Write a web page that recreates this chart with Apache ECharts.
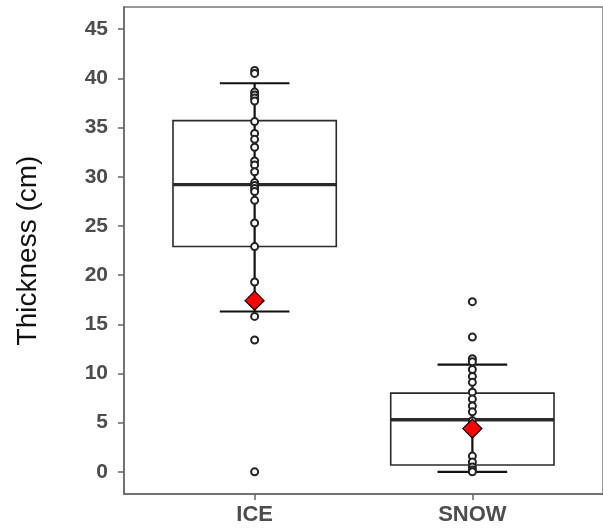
<!DOCTYPE html>
<html>
<head>
<meta charset="utf-8">
<script src="https://cdn.jsdelivr.net/npm/echarts@6/dist/echarts.min.js"></script>
<style>
  html, body { margin: 0; padding: 0; background: #fff; }
  #main { width: 603px; height: 531px; }
</style>
</head>
<body>
<div id="main"></div>
<script>
var categories = ['ICE', 'SNOW'];
// box stats per category: lower whisker, Q1, median, Q3, upper whisker
var lowerWhisker = [16.3, 0];
var q1 = [22.9, 0.7];
var median = [29.2, 5.3];
var q3 = [35.7, 8.0];
var upperWhisker = [39.5, 10.9];
var means = [17.4, 4.4];
// observed values
var icePoints = [40.8, 40.5, 38.6, 38.3, 38.0, 37.7, 35.6, 34.4, 33.8, 33.0, 31.6, 31.2, 30.5,
    29.4, 29.1, 28.8, 28.5, 27.6, 25.3, 22.9, 19.3, 15.8, 13.4, 0];
var snowPoints = [17.3, 13.7, 11.5, 11.2, 10.4, 9.7, 9.1, 8.1, 7.4, 6.7, 6.1, 5.2, 1.6, 1.0, 0.5, 0.2, 0];
var yTicks = [0, 5, 10, 15, 20, 25, 30, 35, 40, 45];

var boxWidth = 0.75;
var capWidth = 0.32;

var boxData = categories.map(function (c, i) {
    return [i + 1, lowerWhisker[i], q1[i], median[i], q3[i], upperWhisker[i]];
});
var pointData = [];
icePoints.forEach(function (v) { pointData.push([1, v]); });
snowPoints.forEach(function (v) { pointData.push([2, v]); });
var meanData = means.map(function (v, i) { return [i + 1, v]; });

function renderBox(params, api) {
    var x = api.value(0);
    var lo = api.coord([x, api.value(1)]);
    var b1 = api.coord([x, api.value(2)]);
    var md = api.coord([x, api.value(3)]);
    var b3 = api.coord([x, api.value(4)]);
    var hi = api.coord([x, api.value(5)]);
    var bw = api.size([boxWidth, 0])[0];
    var cw = api.size([capWidth, 0])[0];
    var cx = lo[0];
    var whisk = { stroke: '#111', lineWidth: 2.2 };
    return {
        type: 'group',
        children: [
            { type: 'line', shape: { x1: cx, y1: lo[1], x2: cx, y2: hi[1] }, style: whisk },
            { type: 'line', shape: { x1: cx - cw / 2, y1: lo[1], x2: cx + cw / 2, y2: lo[1] }, style: whisk },
            { type: 'line', shape: { x1: cx - cw / 2, y1: hi[1], x2: cx + cw / 2, y2: hi[1] }, style: whisk },
            { type: 'rect', shape: { x: cx - bw / 2, y: b3[1], width: bw, height: b1[1] - b3[1] },
              style: { fill: 'none', stroke: '#2a2a2a', lineWidth: 1.6 } },
            { type: 'line', shape: { x1: cx - bw / 2, y1: md[1], x2: cx + bw / 2, y2: md[1] },
              style: { stroke: '#2a2a2a', lineWidth: 3.4 } }
        ]
    };
}

var myChart = echarts.init(document.getElementById('main'));
var option = {
    animation: false,
    grid: {
        left: 124, right: -6, top: 7, bottom: 37,
        show: true, borderColor: '#777', borderWidth: 1.5
    },
    xAxis: {
        type: 'value',
        min: 0.4,
        max: 2.6,
        splitLine: { show: false },
        axisLine: { show: true, onZero: false, lineStyle: { color: '#666', width: 1.5 } },
        axisTick: { show: true, length: 6, customValues: [1, 2], lineStyle: { color: '#666', width: 1.5 } },
        axisLabel: {
            customValues: [1, 2],
            formatter: function (v) { return categories[Math.round(v) - 1]; },
            color: '#4d4d4d', fontWeight: 'bold', fontSize: 22,
            fontFamily: 'Liberation Sans', margin: 10
        }
    },
    yAxis: {
        type: 'value',
        min: -2.25,
        max: 47.25,
        name: 'Thickness (cm)',
        nameLocation: 'middle',
        nameRotate: 90,
        nameGap: 82,
        nameTextStyle: { color: '#111', fontSize: 28, fontFamily: 'Liberation Sans' },
        splitLine: { show: false },
        axisLine: { show: true, onZero: false, lineStyle: { color: '#666', width: 1.5 } },
        axisTick: { show: true, length: 6, customValues: yTicks, lineStyle: { color: '#666', width: 1.5 } },
        axisLabel: {
            customValues: yTicks,
            color: '#4d4d4d', fontWeight: 'bold', fontSize: 21,
            fontFamily: 'Liberation Sans', margin: 16
        }
    },
    series: [
        {
            type: 'custom',
            name: 'box',
            renderItem: renderBox,
            data: boxData,
            z: 2
        },
        {
            type: 'scatter',
            name: 'points',
            data: pointData,
            symbol: 'emptyCircle',
            symbolSize: 7,
            itemStyle: { color: '#222', borderColor: '#222', borderWidth: 1.6, opacity: 1 },
            z: 3
        },
        {
            type: 'scatter',
            name: 'mean',
            data: meanData,
            symbol: 'diamond',
            symbolSize: 19,
            itemStyle: { color: '#ff0000', borderColor: '#000', borderWidth: 1.2, opacity: 1 },
            z: 4
        }
    ]
};
myChart.setOption(option, true);
</script>
</body>
</html>
